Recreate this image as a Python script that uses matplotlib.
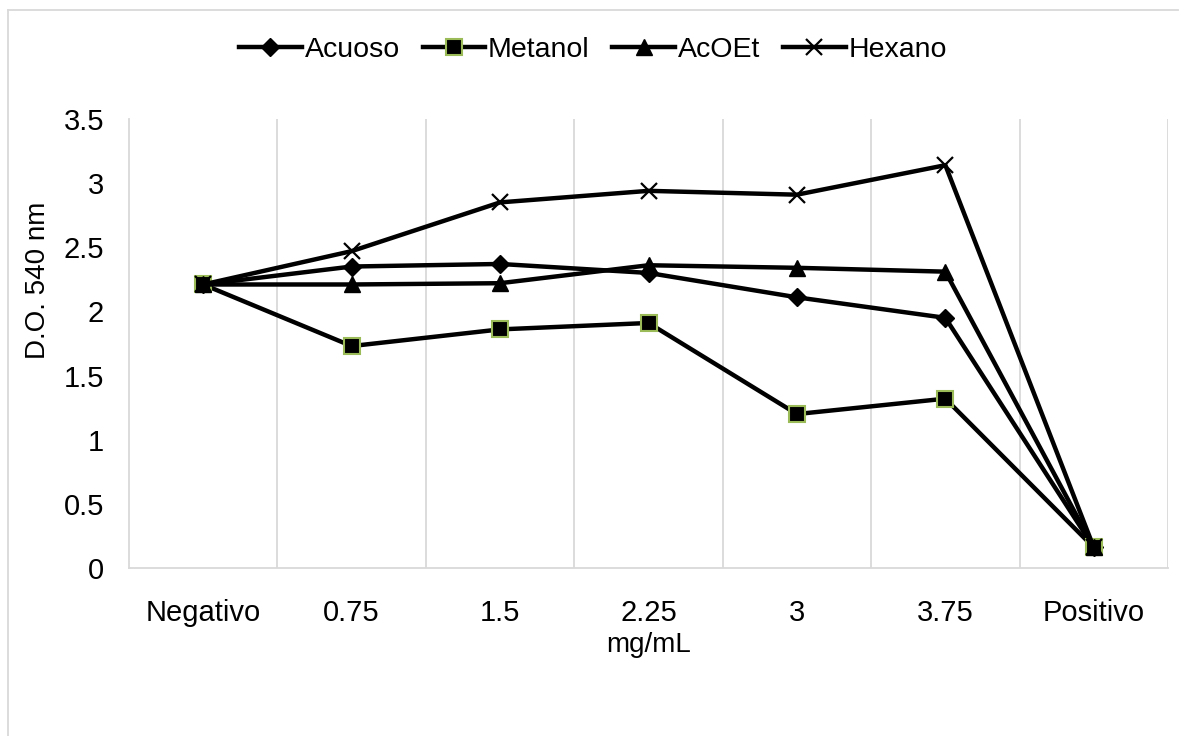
import matplotlib
matplotlib.use("Agg")
import matplotlib.pyplot as plt
from matplotlib.lines import Line2D

plt.rcParams['font.family'] = ['Liberation Sans', 'DejaVu Sans']

# optical density (540 nm) per treatment group
categorias = ['Negativo', '0.75', '1.5', '2.25', '3', '3.75', 'Positivo']
acuoso = [2.21, 2.35, 2.37, 2.30, 2.11, 1.95, 0.16]
metanol = [2.21, 1.73, 1.86, 1.91, 1.20, 1.32, 0.16]
acoet = [2.21, 2.21, 2.22, 2.36, 2.34, 2.31, 0.16]
hexano = [2.21, 2.47, 2.85, 2.94, 2.91, 3.14, 0.16]
yticks = [0, 0.5, 1, 1.5, 2, 2.5, 3, 3.5]

W, H = 1186, 736
fig = plt.figure(figsize=(W / 100, H / 100), dpi=100)
ax = fig.add_axes([129 / W, (H - 568) / H, (1168 - 129) / W, (568 - 119) / H])

x = list(range(len(categorias)))
lw = 3.2
ax.plot(x, acuoso, color='black', lw=lw, marker='D', ms=9, mfc='black', mec='black', label='Acuoso', zorder=3)
ax.plot(x, metanol, color='black', lw=lw, marker='s', ms=11, mfc='black', mec='#9BBB59', mew=1.5, label='Metanol', zorder=3)
ax.plot(x, acoet, color='black', lw=lw, marker='^', ms=12, mfc='black', mec='black', label='AcOEt', zorder=3)
ax.plot(x, hexano, color='black', lw=lw, marker='x', ms=12, mew=1.6, mec='black', label='Hexano', zorder=3)

ax.set_xlim(-0.5, len(categorias) - 0.5)
ax.set_ylim(0, 3.5)
ax.set_xticks(x)
ax.set_xticklabels(categorias)
ax.set_yticks(yticks)
ax.set_yticklabels(['%g' % v for v in yticks])
ax.tick_params(axis='both', length=0, labelsize=21)
ax.tick_params(axis='x', pad=22)
ax.tick_params(axis='y', pad=18)

# vertical separators between categories
for b in range(len(categorias)):
    ax.axvline(b + 0.5, color='#D9D9D9', lw=1.3, zorder=1)

for s in ['top', 'right']:
    ax.spines[s].set_visible(False)
for s in ['left', 'bottom']:
    ax.spines[s].set_color('#D9D9D9')
    ax.spines[s].set_linewidth(1.3)

ax.set_xlabel('mg/mL', fontsize=20)
ax.set_ylabel('D.O. 540 nm', fontsize=20)
ax.xaxis.set_label_coords(0.5, -0.142)
ax.yaxis.set_label_coords(-0.075, 0.64)

leg = fig.legend(loc='center', bbox_to_anchor=(0.5, (H - 50) / H), ncol=4, frameon=False,
                 fontsize=20.5, handlelength=2.2, handletextpad=0.1, columnspacing=0.8)

# chart area border
fig.add_artist(Line2D([8 / W, 8 / W], [0, (H - 10) / H], color='#D9D9D9', lw=1.3))
fig.add_artist(Line2D([8 / W, 1178 / W], [(H - 10) / H, (H - 10) / H], color='#D9D9D9', lw=1.3))

fig.savefig('out.png', dpi=100)
